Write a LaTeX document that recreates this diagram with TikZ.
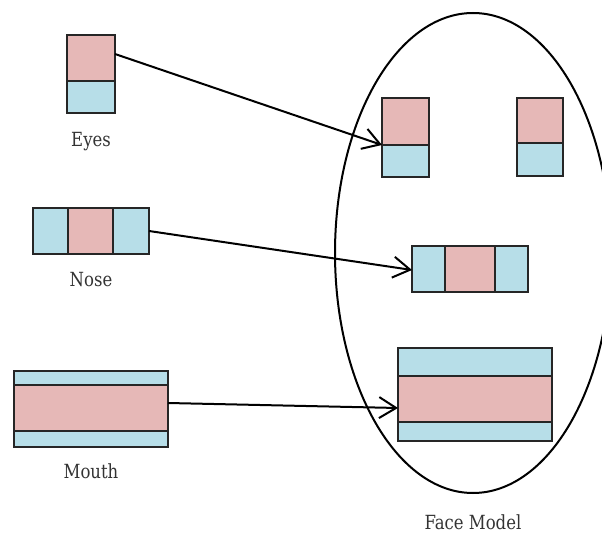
\documentclass[tikz,border=0pt]{standalone}
\usepackage{fontspec}
\newfontfamily\labelfont[FakeStretch=0.94]{DejaVu Serif Condensed}
\usetikzlibrary{positioning,arrows.meta,shapes.geometric}
\definecolor{partpink}{HTML}{E6B8B7}
\definecolor{partblue}{HTML}{B7DEE8}
\begin{document}
\begin{tikzpicture}[x=1pt,y=-1pt]
\tikzstyle{every node}+=[inner sep=0pt, outer sep=0pt]
\tikzstyle{pinkpart}=[draw=black!85, line width=1.1pt, fill=partpink, rectangle]
\tikzstyle{bluepart}=[draw=black!85, line width=1.1pt, fill=partblue, rectangle]
\tikzstyle{partname}=[anchor=base, font=\labelfont\fontsize{19.5}{22}\selectfont, text=black!80]
\tikzstyle{maps}=[line width=2pt, -{Straight Barb[length=17pt,width=21pt,line width=2pt]}]
\useasboundingbox (0,0) rectangle (602,534);
\clip (0,0) rectangle (602,534);
% face outline
\node [draw, ellipse, line width=2pt, minimum width=276pt, minimum height=480pt] (face) at (473,253) {};
\node [partname] (facename) at (473,529) {Face Model};
% eyes
\node [pinkpart, minimum width=48pt, minimum height=46pt] (eyeT) at (91,58) {};
\node [bluepart, minimum width=48pt, minimum height=32pt, below=0pt of eyeT] (eyeB) {};
\node [partname] (eyename) at (91,147) {Eyes};
% nose
\node [pinkpart, minimum width=45pt, minimum height=46pt] (noseM) at (90.5,231) {};
\node [bluepart, minimum width=35pt, minimum height=46pt, left=0pt of noseM] (noseL) {};
\node [bluepart, minimum width=36pt, minimum height=46pt, right=0pt of noseM] (noseR) {};
\node [partname] (nosename) at (91,287) {Nose};
% mouth
\node [pinkpart, minimum width=154pt, minimum height=46pt] (mouthM) at (91,408) {};
\node [bluepart, minimum width=154pt, minimum height=14pt, above=0pt of mouthM] (mouthT) {};
\node [bluepart, minimum width=154pt, minimum height=16pt, below=0pt of mouthM] (mouthB) {};
\node [partname] (mouthname) at (91,478) {Mouth};
% parts placed in the face
\node [pinkpart, minimum width=47pt, minimum height=47pt] (feyeLT) at (405.5,121.5) {};
\node [bluepart, minimum width=47pt, minimum height=32pt, below=0pt of feyeLT] (feyeLB) {};
\node [pinkpart, minimum width=46pt, minimum height=45pt] (feyeRT) at (540,120.5) {};
\node [bluepart, minimum width=46pt, minimum height=33pt, below=0pt of feyeRT] (feyeRB) {};
\node [pinkpart, minimum width=50pt, minimum height=46pt] (fnoseM) at (470,269) {};
\node [bluepart, minimum width=33pt, minimum height=46pt, left=0pt of fnoseM] (fnoseL) {};
\node [bluepart, minimum width=33pt, minimum height=46pt, right=0pt of fnoseM] (fnoseR) {};
\node [pinkpart, minimum width=154pt, minimum height=46pt] (fmouthM) at (475,399) {};
\node [bluepart, minimum width=154pt, minimum height=28pt, above=0pt of fmouthM] (fmouthT) {};
\node [bluepart, minimum width=154pt, minimum height=19pt, below=0pt of fmouthM] (fmouthB) {};
% mappings
\draw [maps] ([yshift=4pt]eyeT.east) -- (feyeLT.south west);
\draw [maps] (noseR.east) -- ([yshift=-1pt]fnoseL.west);
\draw [maps] ([yshift=5pt]mouthM.east) -- ([yshift=-9pt]fmouthM.west);
\end{tikzpicture}
\end{document}
